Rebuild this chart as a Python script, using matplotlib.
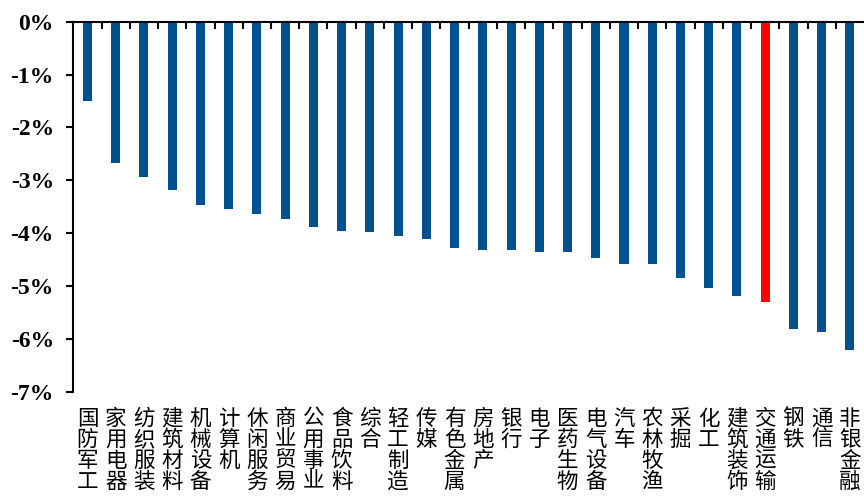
import matplotlib.pyplot as plt
import numpy as np

plt.rcParams['font.serif'] = ['Liberation Serif', 'Times New Roman', 'DejaVu Serif']

# industry names and returns (%)
industries = ['国防军工', '家用电器', '纺织服装', '建筑材料', '机械设备', '计算机', '休闲服务',
              '商业贸易', '公用事业', '食品饮料', '综合', '轻工制造', '传媒', '有色金属',
              '房地产', '银行', '电子', '医药生物', '电气设备', '汽车', '农林牧渔', '采掘',
              '化工', '建筑装饰', '交通运输', '钢铁', '通信', '非银金融']
returns = [-1.50, -2.67, -2.93, -3.18, -3.47, -3.55, -3.64,
           -3.73, -3.89, -3.96, -3.98, -4.05, -4.11, -4.28,
           -4.31, -4.31, -4.35, -4.35, -4.47, -4.58, -4.58, -4.84,
           -5.04, -5.19, -5.30, -5.81, -5.86, -6.21]
highlight = '交通运输'

blue = '#00518F'
red = '#FF0000'
colors = [red if n == highlight else blue for n in industries]

fig = plt.figure(figsize=(8.64, 5.01), dpi=100)
ax = fig.add_axes([0.0849, 0.2176, 0.9151, 0.7391])

x = np.arange(len(industries))
ax.bar(x, returns, width=0.32, color=colors, zorder=2)

ax.set_xlim(-0.5, len(industries) - 0.5)
ax.set_ylim(-7, 0)

# spines: only left and top (zero line)
ax.spines['bottom'].set_visible(False)
ax.spines['right'].set_visible(False)
ax.spines['left'].set_linewidth(1.5)
ax.spines['top'].set_linewidth(1.5)

# y ticks
yt = np.arange(0, -8, -1)
ax.set_yticks(yt)
ax.set_yticklabels([f'{v}%' for v in yt], family='serif',
                   fontweight='bold', fontsize=17)
ax.tick_params(axis='y', direction='out', length=5, width=1.5, pad=9)

# x: boundary ticks on the zero line, no major tick labels
ax.set_xticks([])
ax.set_xticks(x[:-1] + 0.5, minor=True)
ax.tick_params(axis='x', which='minor', top=True, bottom=False, direction='in',
               length=5, width=1.5)

# vertical category labels
for i, name in enumerate(industries):
    ax.text(i, -7.3, '\n'.join(name), ha='center', va='top',
            fontfamily='Noto Sans CJK SC', fontsize=15.5, linespacing=0.94,
            clip_on=False)

fig.savefig('out.png', dpi=100)
